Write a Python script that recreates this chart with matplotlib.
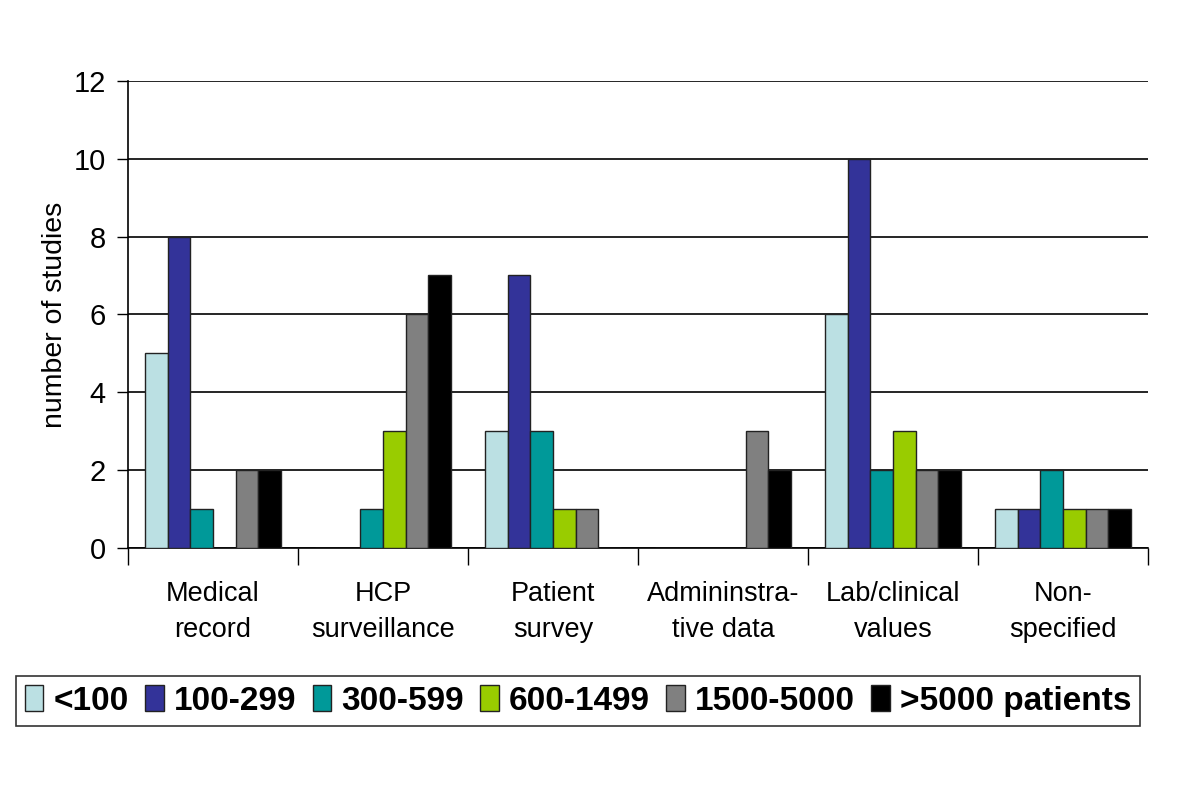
import numpy as np
import matplotlib.pyplot as plt
import matplotlib.patches as mpatches

plt.rcParams['font.family'] = ['Liberation Sans', 'DejaVu Sans']

# ── Dữ liệu ─────────────────────────────────────────────────────────────────
categories = ['Medical\nrecord', 'HCP\nsurveillance', 'Patient\nsurvey',
              'Admininstra-\ntive data', 'Lab/clinical\nvalues', 'Non-\nspecified']
groups = ['<100', '100-299', '300-599', '600-1499', '1500-5000', '>5000 patients']
lt100      = [5, 0, 3, 0, 6, 1]
g100_299   = [8, 0, 7, 0, 10, 1]
g300_599   = [1, 1, 3, 0, 2, 2]
g600_1499  = [0, 3, 1, 0, 3, 1]
g1500_5000 = [2, 6, 1, 3, 2, 1]
gt5000     = [2, 7, 0, 2, 2, 1]
series = [lt100, g100_299, g300_599, g600_1499, g1500_5000, gt5000]
colors = ['#BBE0E3', '#333399', '#009999', '#99CC00', '#808080', '#000000']

fig = plt.figure(figsize=(12, 8), dpi=100)
ax = fig.add_axes([0.1067, 0.315, 0.85, 0.584])

# độ rộng cột kiểu Excel (gap width 150%)
w = 1 / 7.5
x = np.arange(len(categories))
for i, (vals, c) in enumerate(zip(series, colors)):
    pos = x - 0.5 + 0.75 * w + i * w + w / 2
    ax.bar(pos, vals, width=w, color=c, edgecolor='#222222', linewidth=1.0, zorder=3)

ax.set_xlim(-0.5, len(categories) - 0.5)
ax.set_ylim(0, 12)
ax.set_yticks(range(0, 13, 2))
ax.tick_params(axis='y', labelsize=21, length=8, width=1, direction='out', pad=8)
ax.yaxis.grid(True, color='black', linewidth=1.2, zorder=0)
ax.set_axisbelow(True)

ax.set_xticks(np.arange(len(categories) + 1) - 0.5)
ax.set_xticklabels([])
ax.tick_params(axis='x', length=12, width=1, direction='out')
for xi, lab in zip(x, categories):
    ax.text(xi, -0.85, lab, ha='center', va='top', fontsize=19.5, linespacing=1.5)

for s in ['top', 'right']:
    ax.spines[s].set_visible(False)
ax.spines['left'].set_linewidth(1.2)
ax.spines['bottom'].set_linewidth(1.2)

ax.set_ylabel('number of studies', fontsize=20.5, labelpad=4)

handles = [mpatches.Patch(facecolor=c, edgecolor='#222222', label=g)
           for g, c in zip(groups, colors)]
leg = fig.legend(handles=handles, loc='center', ncol=6, bbox_to_anchor=(0.4817, 0.124),
                 prop={'weight': 'bold', 'size': 24}, frameon=True, fancybox=False,
                 handlelength=0.55, handleheight=0.85, handletextpad=0.3,
                 columnspacing=0.5, borderpad=0.28, borderaxespad=0, edgecolor='black')
leg.get_frame().set_linewidth(1.2)

fig.savefig('out.png', dpi=100)
